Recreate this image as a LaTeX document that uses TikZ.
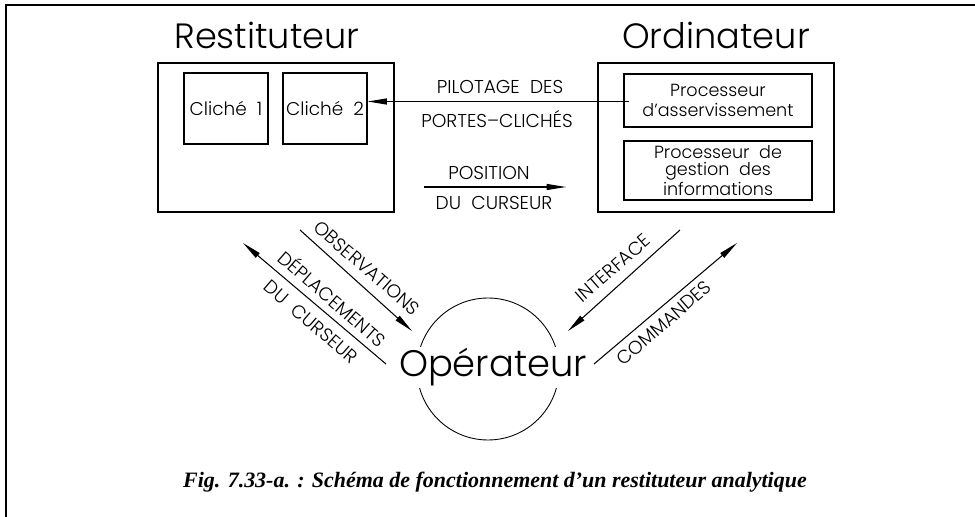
\documentclass[tikz,border=0pt]{standalone}
\usepackage{fontspec}
\setmainfont{Liberation Serif}
\newfontfamily\cadfont{Poppins Light}
\usetikzlibrary{arrows.meta,positioning}

\begin{document}
\begin{tikzpicture}[x=0.02cm,y=-0.02cm,
  box/.style={draw,line width=0.6pt,inner sep=0pt},
  title/.style={font=\cadfont\fontsize{20}{22}\selectfont,anchor=base},
  txt/.style={font=\cadfont\fontsize{10}{11.3}\selectfont,align=center},
  lbl/.style={font=\cadfont\fontsize{10.6}{12}\selectfont,inner sep=0pt},
  arr/.style={line width=0.6pt,-{Triangle[length=11pt,width=3.4pt]}}]
\useasboundingbox (0,0) rectangle (975,517);
\draw[line width=1.7pt] (6,517) -- (6,5) -- (975,5);

% Restituteur
\node[title] (restT) at (267,49) {Restituteur};
\node[box,minimum width=4.72cm,minimum height=2.98cm] (rest) at (276,137.5) {};
\node[box,txt,minimum width=1.68cm,minimum height=1.42cm,font=\cadfont\fontsize{10.5}{12}\selectfont] (cli1) at (226,108.5) {Cliché~~1};
\node[box,txt,minimum width=1.68cm,minimum height=1.42cm,font=\cadfont\fontsize{10.5}{12}\selectfont] (cli2) at (325,108.5) {Cliché~~2};

% Ordinateur
\node[title] (ordT) at (716,49) {Ordinateur};
\node[box,minimum width=4.72cm,minimum height=2.98cm] (ord) at (716,137.5) {};
\node[box,txt,minimum width=3.76cm,minimum height=1.06cm] (procA) at (718,100.5) {Processeur\\d’asservissement};
\node[box,txt,minimum width=3.76cm,minimum height=1.18cm,font=\cadfont\fontsize{10}{9.9}\selectfont] (procB) at (718,170.5) {Processeur~~de\\gestion~~des\\informations};

% liaisons horizontales
\coordinate (pil) at (629,101.5);
\draw[arr] (pil) -- (pil -| cli2.east);
\node[lbl] (pilA) at (500,87) {PILOTAGE~~DES};
\node[lbl] (pilB) at (497,119) {PORTES–CLICHÉS};
\coordinate (posA) at (424,187);
\coordinate (posB) at (566,187);
\draw[arr] (posA) -- (posB);
\node[lbl] (posT) at (489,173) {POSITION};
\node[lbl] (posU) at (494,203) {DU~~CURSEUR};

% Operateur
\node[draw,circle,line width=0.5pt,minimum size=2.84cm] (opC) at (488,369) {};
\node[fill=white,inner sep=1pt,font=\cadfont\fontsize{21}{24}\selectfont,anchor=base] (op) at (493,377) {Opérateur};

% liaisons obliques
\coordinate (obsA) at (300,230);
\coordinate (obsB) at (412,331);
\coordinate (depA) at (386,364);
\coordinate (depB) at (243,243);
\coordinate (intA) at (680,230);
\coordinate (intB) at (568,331);
\coordinate (comA) at (594,364);
\coordinate (comB) at (737,243);
\draw[arr] (obsA) -- (obsB);
\draw[arr] (depA) -- (depB);
\draw[arr] (intA) -- (intB);
\draw[arr] (comA) -- (comB);
\node[lbl,rotate=-41] (obsT) at (367,268) {OBSERVATIONS};
\node[lbl,rotate=-41] (depT) at (333,298) {DÉPLACEMENTS};
\node[lbl,rotate=-41] (depU) at (311,322) {DU~~CURSEUR};
\node[lbl,rotate=41] (intT) at (613,268) {INTERFACE};
\node[lbl,rotate=41] (comT) at (664,323) {COMMANDES};

\node[font=\bfseries\itshape\fontsize{12.5}{14}\selectfont,anchor=base] (cap) at (495,487)
  {Fig. 7.33-a. : Schéma de fonctionnement d’un restituteur analytique};
\end{tikzpicture}
\end{document}
